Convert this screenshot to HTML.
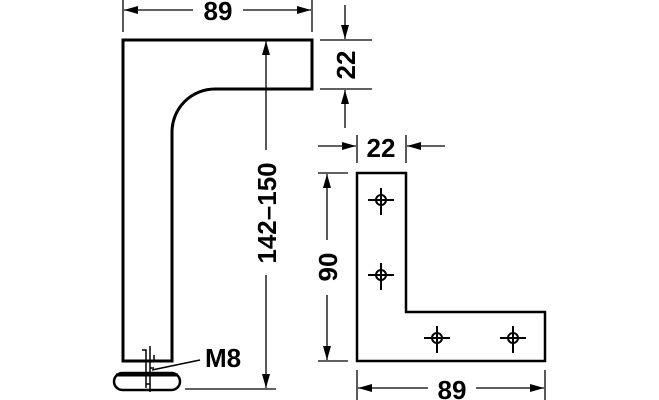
<!DOCTYPE html>
<html><head><style>html,body{margin:0;padding:0;background:#fff}svg{display:block}</style></head><body>
<svg width="659" height="400" viewBox="0 0 659 400" xmlns="http://www.w3.org/2000/svg">
<defs>
<marker id="a" viewBox="0 0 14 8" refX="14" refY="4" markerWidth="14" markerHeight="8" markerUnits="userSpaceOnUse" orient="auto"><path d="M0,0 L14,4 L0,8 z" fill="#000"/></marker>
</defs>
<g fill="none" stroke="#000">
<path d="M123,361 V40 H312 V89 H215 A43,43 0 0 0 172,132 V361 Z" stroke-width="3"/>
<rect x="114" y="373" width="66" height="17" rx="8.5" stroke-width="2.5"/>
<line x1="116" y1="375" x2="178" y2="375" stroke-width="3"/>
<path d="M142,350 H146 V388 M150,346 V392 M154,355 V362 M146,384 H150 M150,368 H154" stroke-width="1.5"/>
<line x1="200" y1="360" x2="152" y2="370" stroke-width="1.5"/>
<line x1="123" y1="0" x2="123" y2="32" stroke-width="1.3"/>
<line x1="312" y1="0" x2="312" y2="32" stroke-width="1.3"/>
<line x1="193" y1="10" x2="124" y2="10" stroke-width="1.3" marker-end="url(#a)"/>
<line x1="243" y1="10" x2="311" y2="10" stroke-width="1.3" marker-end="url(#a)"/>
<line x1="266" y1="150" x2="266" y2="41" stroke-width="1.3" marker-end="url(#a)"/>
<line x1="266" y1="275" x2="266" y2="388" stroke-width="1.3" marker-end="url(#a)"/>
<line x1="185" y1="389" x2="276" y2="389" stroke-width="1.3"/>
<line x1="320" y1="40" x2="372" y2="40" stroke-width="1.3"/>
<line x1="320" y1="89" x2="372" y2="89" stroke-width="1.3"/>
<line x1="345" y1="5" x2="345" y2="39" stroke-width="1.3" marker-end="url(#a)"/>
<line x1="345" y1="128" x2="345" y2="90" stroke-width="1.3" marker-end="url(#a)"/>
<path d="M357,173 H406 V312 H545 V361 H357 Z" stroke-width="2.5"/>
<g stroke-width="2">
<circle cx="381" cy="200" r="5"/><path d="M368,200 H394 M381,188 V215"/>
<circle cx="381" cy="275" r="5"/><path d="M368,275 H394 M381,263 V290"/>
<circle cx="437" cy="338" r="5"/><path d="M424,338 H450 M437,326 V353"/>
<circle cx="513" cy="338" r="5"/><path d="M500,338 H526 M513,326 V353"/>
</g>
<line x1="357" y1="135" x2="357" y2="163" stroke-width="1.3"/>
<line x1="406" y1="135" x2="406" y2="163" stroke-width="1.3"/>
<line x1="318" y1="146" x2="356" y2="146" stroke-width="1.3" marker-end="url(#a)"/>
<line x1="445" y1="146" x2="407" y2="146" stroke-width="1.3" marker-end="url(#a)"/>
<line x1="318" y1="173" x2="348" y2="173" stroke-width="1.3"/>
<line x1="318" y1="361" x2="348" y2="361" stroke-width="1.3"/>
<line x1="327" y1="240" x2="327" y2="174" stroke-width="1.3" marker-end="url(#a)"/>
<line x1="327" y1="295" x2="327" y2="360" stroke-width="1.3" marker-end="url(#a)"/>
<line x1="357" y1="370" x2="357" y2="400" stroke-width="1.3"/>
<line x1="545" y1="370" x2="545" y2="400" stroke-width="1.3"/>
<line x1="428" y1="388" x2="358" y2="388" stroke-width="1.3" marker-end="url(#a)"/>
<line x1="476" y1="388" x2="544" y2="388" stroke-width="1.3" marker-end="url(#a)"/>
</g>
<g font-family="Liberation Sans, sans-serif" font-weight="bold" font-size="26" fill="#000" text-anchor="middle">
<text x="218" y="20">89</text>
<text x="452" y="399">89</text>
<text x="381" y="157">22</text>
<text x="223" y="367">M8</text>
<text transform="translate(355,65) rotate(-90)">22</text>
<text transform="translate(337,267) rotate(-90)">90</text>
<text transform="translate(276,213) rotate(-90)">142–150</text>
</g>
</svg>
</body></html>
